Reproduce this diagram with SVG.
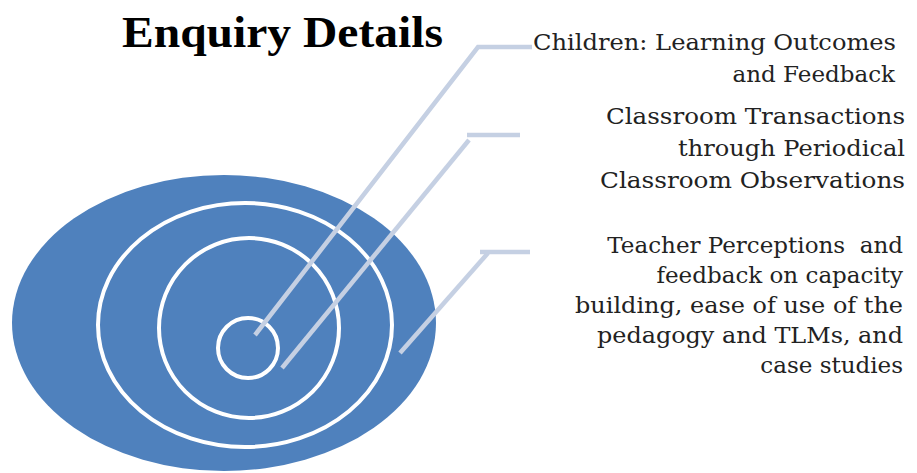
<svg xmlns="http://www.w3.org/2000/svg" width="917" height="473" viewBox="0 0 917 473">
  <style>
    .ring { fill: none; stroke: #ffffff; stroke-width: 4; }
    .leader { fill: none; stroke: #c5d0e3; stroke-width: 4.5; stroke-linecap: butt; }
    .title { font-family: "Liberation Serif", "DejaVu Serif", serif; font-weight: bold; font-size: 44px; fill: #000000; }
    .label { font-family: "DejaVu Serif", "Liberation Serif", serif; font-weight: normal; font-size: 23px; fill: #222222; text-anchor: end; }
  </style>

  <rect x="0" y="0" width="917" height="473" fill="#ffffff"/>

  <text class="title" x="122" y="47" textLength="321" lengthAdjust="spacingAndGlyphs">Enquiry Details</text>

  <!-- target: filled outer ellipse with nested white rings -->
  <g id="target">
    <ellipse cx="224" cy="323" rx="212" ry="148" fill="#4f81bd"/>
    <ellipse class="ring" cx="245" cy="325" rx="147" ry="122"/>
    <ellipse class="ring" cx="249" cy="328" rx="90" ry="90"/>
    <circle class="ring" cx="248" cy="348" r="30"/>
  </g>

  <!-- leader lines from each ring out to its label -->
  <g id="connectors">
    <polyline class="leader" points="255,335 478,47 532,47"/>
    <line class="leader" x1="282" y1="368" x2="469" y2="140"/>
    <line class="leader" x1="467" y1="135" x2="520" y2="135"/>
    <line class="leader" x1="400" y1="353" x2="488" y2="253"/>
    <line class="leader" x1="480" y1="252" x2="530" y2="252"/>
  </g>

  <g id="label-children">
    <text class="label" x="896" y="50" textLength="363" lengthAdjust="spacingAndGlyphs">Children: Learning Outcomes</text>
    <text class="label" x="895" y="82">and Feedback</text>
  </g>

  <g id="label-classroom">
    <text class="label" x="905" y="124" textLength="299" lengthAdjust="spacingAndGlyphs">Classroom Transactions</text>
    <text class="label" x="905" y="156" textLength="227" lengthAdjust="spacingAndGlyphs">through Periodical</text>
    <text class="label" x="905" y="188" textLength="305" lengthAdjust="spacingAndGlyphs">Classroom Observations</text>
  </g>

  <g id="label-teacher">
    <text class="label" x="903" y="253" xml:space="preserve">Teacher Perceptions  and</text>
    <text class="label" x="903" y="283">feedback on capacity</text>
    <text class="label" x="903" y="313" textLength="328" lengthAdjust="spacingAndGlyphs">building, ease of use of the</text>
    <text class="label" x="903" y="343" textLength="306" lengthAdjust="spacingAndGlyphs">pedagogy and TLMs, and</text>
    <text class="label" x="903" y="373">case studies</text>
  </g>
</svg>
